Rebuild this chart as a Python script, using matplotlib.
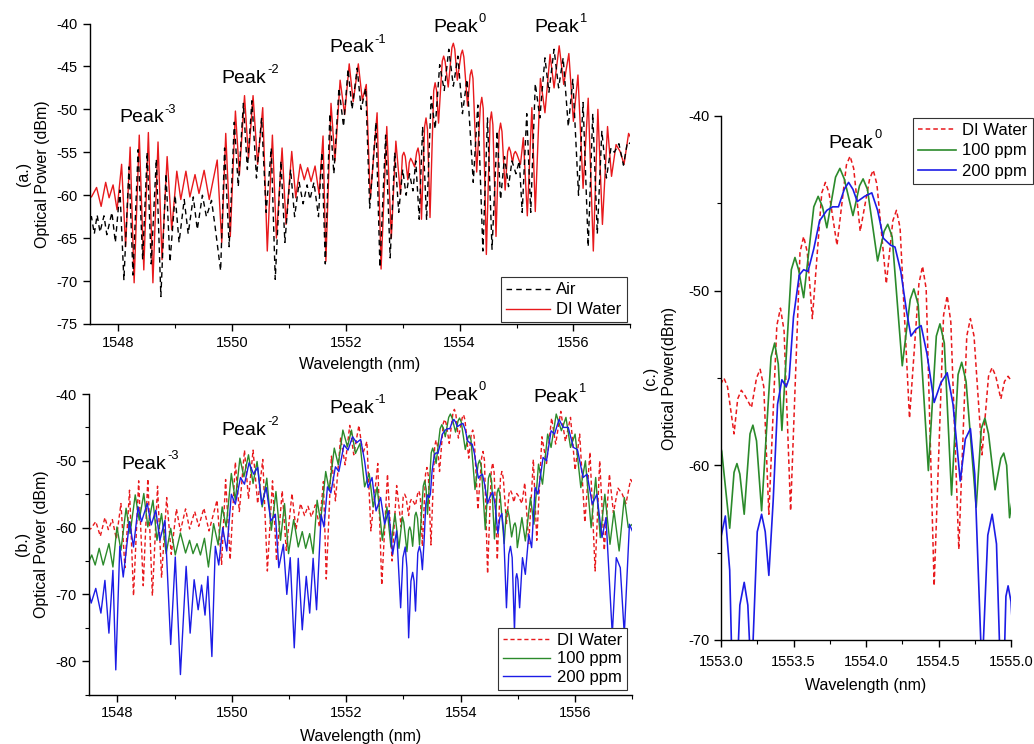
import matplotlib
matplotlib.use('Agg')
import matplotlib.pyplot as plt
import numpy as np
from matplotlib.ticker import MultipleLocator, FormatStrFormatter

plt.rcParams['font.family'] = ['Liberation Sans', 'DejaVu Sans']
plt.rcParams['axes.unicode_minus'] = False

# ---------------- data (wavelength nm, optical power dBm) -------------
air = [
    (1547.48, -63.8), (1547.53, -62.5), (1547.58, -64.5), (1547.63, -62.3), (1547.68, -64.3),
    (1547.75, -62.4), (1547.80, -64.6), (1547.89, -62.0), (1547.95, -65.5), (1548.03, -59.4),
    (1548.10, -69.9), (1548.19, -56.7), (1548.26, -69.3), (1548.35, -54.7), (1548.43, -67.5),
    (1548.51, -55.0), (1548.58, -68.0), (1548.67, -55.8), (1548.75, -71.8), (1548.84, -57.5),
    (1548.91, -67.8), (1549.00, -60.0), (1549.07, -65.5), (1549.16, -60.5), (1549.23, -64.5),
    (1549.32, -60.2), (1549.39, -64.0), (1549.48, -60.0), (1549.55, -62.5), (1549.64, -60.6),
    (1549.70, -63.5), (1549.80, -68.8), (1549.87, -54.5), (1549.95, -66.0), (1550.04, -51.5),
    (1550.11, -59.0), (1550.20, -49.3), (1550.27, -57.0), (1550.35, -49.0), (1550.43, -58.0),
    (1550.52, -51.0), (1550.60, -62.0), (1550.69, -54.5), (1550.76, -69.8), (1550.86, -56.0),
    (1550.93, -65.5), (1551.03, -57.0), (1551.10, -62.5), (1551.18, -58.5), (1551.25, -61.0),
    (1551.32, -58.8), (1551.37, -60.5), (1551.44, -58.5), (1551.52, -62.5), (1551.58, -55.0),
    (1551.64, -68.0), (1551.72, -50.5), (1551.79, -57.5), (1551.88, -47.5), (1551.96, -52.0),
    (1552.04, -45.3), (1552.11, -50.0), (1552.20, -45.2), (1552.27, -50.0), (1552.35, -47.5),
    (1552.42, -61.5), (1552.53, -51.5), (1552.60, -68.4), (1552.70, -53.0), (1552.78, -67.3),
    (1552.86, -55.0), (1552.93, -62.0), (1553.00, -57.0), (1553.06, -60.0), (1553.12, -57.5),
    (1553.18, -59.5), (1553.23, -56.0), (1553.29, -62.8), (1553.35, -52.0), (1553.42, -62.9),
    (1553.50, -48.5), (1553.57, -52.3), (1553.65, -44.8), (1553.73, -47.8), (1553.81, -43.0),
    (1553.89, -47.3), (1553.97, -43.8), (1554.05, -50.5), (1554.13, -46.5), (1554.24, -58.5),
    (1554.32, -49.5), (1554.41, -66.5), (1554.49, -51.0), (1554.57, -66.3), (1554.66, -52.5),
    (1554.72, -60.5), (1554.79, -55.5), (1554.86, -59.0), (1554.92, -56.0), (1554.99, -57.5),
    (1555.05, -56.0), (1555.10, -62.0), (1555.18, -50.5), (1555.25, -62.0), (1555.33, -47.0),
    (1555.41, -51.0), (1555.50, -44.0), (1555.57, -48.0), (1555.66, -43.0), (1555.74, -47.5),
    (1555.82, -44.0), (1555.91, -52.0), (1555.99, -46.5), (1556.09, -60.0), (1556.17, -49.2),
    (1556.26, -66.0), (1556.34, -50.5), (1556.42, -64.5), (1556.50, -52.5), (1556.58, -58.0),
    (1556.66, -54.5), (1556.72, -55.0), (1556.80, -54.0), (1556.88, -56.5), (1556.95, -53.8),
    (1557.00, -54.0),
]

di_water = [
    (1547.48, -60.1), (1547.53, -60.2), (1547.62, -59.1), (1547.70, -61.3), (1547.78, -58.5),
    (1547.84, -60.3), (1547.91, -58.8), (1547.98, -61.7), (1548.06, -56.4), (1548.13, -66.0),
    (1548.21, -54.4), (1548.28, -70.2), (1548.37, -53.0), (1548.45, -68.7), (1548.53, -52.7),
    (1548.61, -70.2), (1548.70, -53.8), (1548.77, -67.5), (1548.86, -55.5), (1548.94, -64.0),
    (1549.03, -57.2), (1549.10, -60.5), (1549.19, -57.2), (1549.26, -60.2), (1549.35, -57.6),
    (1549.42, -59.8), (1549.51, -57.1), (1549.60, -60.5), (1549.74, -55.9), (1549.82, -65.5),
    (1549.89, -52.8), (1549.97, -64.8), (1550.06, -50.2), (1550.13, -57.6), (1550.22, -48.4),
    (1550.29, -55.7), (1550.37, -48.4), (1550.45, -56.4), (1550.54, -49.8), (1550.62, -66.5),
    (1550.71, -53.0), (1550.78, -65.0), (1550.88, -54.5), (1550.95, -63.4), (1551.05, -54.9),
    (1551.12, -60.3), (1551.20, -56.4), (1551.27, -58.2), (1551.33, -56.8), (1551.39, -58.4),
    (1551.46, -56.6), (1551.53, -59.9), (1551.60, -53.1), (1551.65, -67.7), (1551.74, -49.3),
    (1551.81, -56.0), (1551.90, -46.6), (1551.98, -50.6), (1552.06, -44.7), (1552.13, -49.1),
    (1552.22, -44.7), (1552.29, -48.9), (1552.36, -47.1), (1552.43, -60.5), (1552.55, -50.4),
    (1552.62, -68.6), (1552.72, -52.0), (1552.80, -65.0), (1552.88, -53.7), (1552.96, -59.9),
    (1552.995, -55.4), (1553.02, -55.0), (1553.045, -55.5), (1553.09, -58.2), (1553.115, -56.2),
    (1553.14, -55.7), (1553.165, -56.0), (1553.21, -56.7), (1553.245, -55.0), (1553.27, -54.5),
    (1553.295, -55.5), (1553.33, -62.8), (1553.385, -52.0), (1553.41, -51.0), (1553.435, -52.3),
    (1553.48, -62.6), (1553.545, -47.8), (1553.57, -46.9), (1553.595, -47.8), (1553.63, -51.6),
    (1553.695, -44.4), (1553.72, -43.8), (1553.745, -44.4), (1553.80, -47.4), (1553.865, -42.8),
    (1553.89, -42.3), (1553.915, -43.0), (1553.96, -46.6), (1554.025, -43.6), (1554.05, -43.1),
    (1554.075, -43.9), (1554.14, -49.6), (1554.185, -46.0), (1554.21, -45.4), (1554.235, -46.4),
    (1554.30, -57.3), (1554.365, -49.6), (1554.39, -48.6), (1554.415, -49.9), (1554.47, -66.9),
    (1554.535, -51.4), (1554.56, -50.3), (1554.585, -51.8), (1554.64, -64.8), (1554.695, -52.6),
    (1554.72, -51.6), (1554.745, -52.6), (1554.80, -59.4), (1554.845, -54.9), (1554.87, -54.4),
    (1554.895, -54.9), (1554.93, -56.2), (1554.955, -55.2), (1554.98, -54.9), (1555.005, -55.2),
    (1555.07, -56.4), (1555.12, -53.3), (1555.19, -62.4),
    (1555.27, -49.8), (1555.33, -61.9), (1555.42, -46.4), (1555.50, -50.4), (1555.59, -43.6),
    (1555.66, -47.5), (1555.75, -42.6), (1555.83, -47.1), (1555.92, -43.5), (1556.00, -51.4),
    (1556.08, -46.0), (1556.17, -59.2), (1556.26, -48.7), (1556.35, -66.5), (1556.43, -50.0),
    (1556.51, -63.4), (1556.60, -52.0), (1556.67, -57.8), (1556.75, -54.1), (1556.82, -54.9),
    (1556.89, -56.4), (1556.97, -52.8), (1557.00, -53.2),
]

ppm100 = [
    (1547.50, -65.1), (1547.55, -64.1), (1547.61, -65.6), (1547.68, -63.1), (1547.75, -65.6),
    (1547.85, -62.4), (1547.92, -65.9), (1547.99, -59.9), (1548.06, -63.4), (1548.15, -57.1),
    (1548.22, -60.9), (1548.31, -55.1), (1548.38, -58.9), (1548.46, -54.9), (1548.53, -59.9),
    (1548.62, -55.9), (1548.69, -61.9), (1548.77, -57.9), (1548.85, -63.9), (1548.93, -60.1),
    (1549.01, -64.1), (1549.10, -60.8), (1549.19, -63.8), (1549.26, -61.9), (1549.32, -63.9),
    (1549.39, -62.4), (1549.45, -64.1), (1549.52, -61.6), (1549.59, -65.9), (1549.68, -59.4),
    (1549.76, -62.6), (1549.83, -56.9), (1549.90, -59.9), (1549.99, -51.9), (1550.06, -55.9),
    (1550.14, -49.6), (1550.21, -52.4), (1550.29, -49.1), (1550.37, -53.4), (1550.44, -50.1),
    (1550.53, -56.9), (1550.61, -52.6), (1550.69, -60.4), (1550.77, -54.6), (1550.85, -61.9),
    (1550.92, -56.4), (1550.99, -63.9), (1551.08, -58.8), (1551.16, -62.9), (1551.23, -60.6),
    (1551.29, -63.1), (1551.36, -60.9), (1551.42, -63.9), (1551.49, -55.9), (1551.55, -59.1),
    (1551.64, -51.6), (1551.70, -54.4), (1551.79, -48.1), (1551.86, -50.6), (1551.94, -45.4),
    (1552.02, -47.9), (1552.09, -45.4), (1552.16, -48.9), (1552.24, -47.4), (1552.32, -53.9),
    (1552.40, -51.9), (1552.47, -56.9), (1552.54, -53.9), (1552.63, -61.9), (1552.71, -56.9),
    (1552.78, -62.9), (1552.85, -57.9), (1552.92, -63.1),
    (1552.98, -58.4), (1553.005, -59.2), (1553.06, -63.6), (1553.09, -60.4), (1553.11, -59.9),
    (1553.13, -60.5), (1553.16, -62.8), (1553.20, -58.2), (1553.22, -57.7), (1553.245, -58.6),
    (1553.28, -62.6), (1553.345, -53.8), (1553.37, -53.0), (1553.395, -54.2), (1553.42, -58.0),
    (1553.485, -48.8), (1553.51, -48.1), (1553.535, -48.8), (1553.57, -50.4), (1553.64, -45.2),
    (1553.67, -44.6), (1553.70, -45.2), (1553.73, -46.4), (1553.79, -43.5), (1553.82, -43.0),
    (1553.85, -43.6), (1553.91, -45.7), (1553.955, -44.0), (1553.98, -43.6), (1554.01, -44.2),
    (1554.08, -48.3), (1554.125, -46.6), (1554.15, -46.2), (1554.18, -46.9), (1554.25, -54.3),
    (1554.305, -50.5), (1554.33, -49.9), (1554.36, -50.8), (1554.43, -60.3), (1554.485, -52.6),
    (1554.51, -51.9), (1554.54, -53.0), (1554.59, -61.7), (1554.635, -54.8), (1554.66, -54.1),
    (1554.69, -55.2), (1554.76, -62.4), (1554.795, -57.9), (1554.82, -57.3), (1554.845, -58.2),
    (1554.89, -61.4), (1554.93, -59.6), (1554.95, -59.3), (1554.97, -60.0), (1554.99, -63.0),
    (1555.07, -58.5), (1555.13, -62.0), (1555.22, -55.5), (1555.28, -59.5),
    (1555.36, -50.5), (1555.43, -53.5), (1555.52, -46.0), (1555.58, -48.0), (1555.67, -43.0),
    (1555.76, -45.5), (1555.84, -43.5), (1555.92, -48.0), (1556.00, -46.0), (1556.10, -54.0),
    (1556.18, -50.0), (1556.28, -60.0), (1556.36, -52.5), (1556.44, -61.5), (1556.52, -55.0),
    (1556.61, -62.5), (1556.68, -57.5), (1556.77, -63.5), (1556.86, -55.5), (1556.93, -60.0),
    (1557.00, -59.5),
]

ppm200 = [
    (1547.50, -69.6), (1547.54, -71.3), (1547.62, -69.1), (1547.71, -72.8), (1547.78, -67.9),
    (1547.85, -75.8), (1547.92, -66.4), (1547.97, -81.3), (1548.04, -62.8), (1548.10, -67.4),
    (1548.21, -59.1), (1548.28, -62.9), (1548.36, -56.9), (1548.42, -59.1), (1548.52, -56.4),
    (1548.59, -59.6), (1548.67, -57.4), (1548.74, -61.9), (1548.83, -58.9), (1548.93, -77.5),
    (1549.01, -64.4), (1549.10, -82.0), (1549.20, -65.8), (1549.27, -75.8), (1549.34, -67.8),
    (1549.41, -72.3), (1549.47, -68.6), (1549.53, -73.1), (1549.58, -67.3), (1549.65, -79.3),
    (1549.71, -62.8), (1549.77, -65.6), (1549.84, -60.0), (1549.91, -63.5), (1549.99, -55.0),
    (1550.06, -56.5), (1550.15, -52.5), (1550.22, -53.5), (1550.30, -50.3), (1550.38, -52.0),
    (1550.45, -51.0), (1550.52, -56.5), (1550.60, -54.0), (1550.68, -59.0), (1550.76, -58.0),
    (1550.82, -66.0), (1550.90, -62.5), (1550.96, -70.0), (1551.02, -64.5), (1551.09, -78.0),
    (1551.16, -64.6), (1551.23, -75.3), (1551.30, -67.3), (1551.36, -72.8), (1551.42, -64.6),
    (1551.48, -72.3), (1551.56, -58.1), (1551.61, -59.9), (1551.67, -53.9), (1551.73, -54.8),
    (1551.81, -50.9), (1551.87, -51.6), (1551.96, -47.6), (1552.03, -48.4), (1552.11, -46.4),
    (1552.18, -47.3), (1552.25, -46.8), (1552.32, -50.0), (1552.38, -54.0), (1552.45, -52.5),
    (1552.52, -57.5), (1552.60, -55.5), (1552.67, -59.5), (1552.74, -57.5), (1552.81, -64.0),
    (1552.88, -60.5), (1552.95, -72.0),
    (1552.99, -64.5), (1553.03, -62.9), (1553.06, -66.0), (1553.09, -76.5), (1553.13, -68.0),
    (1553.16, -66.7), (1553.185, -68.0), (1553.21, -72.5), (1553.25, -63.8), (1553.28, -62.8),
    (1553.305, -63.8), (1553.33, -66.3), (1553.36, -62.0), (1553.39, -56.5), (1553.42, -55.1),
    (1553.45, -55.5), (1553.47, -55.0), (1553.50, -51.5), (1553.54, -49.1), (1553.57, -48.8),
    (1553.60, -48.9), (1553.64, -47.6), (1553.68, -46.0), (1553.73, -45.4), (1553.77, -45.2),
    (1553.81, -45.2), (1553.85, -44.2), (1553.88, -43.8), (1553.91, -44.2), (1553.94, -44.9),
    (1553.99, -44.6), (1554.04, -44.4), (1554.08, -45.4), (1554.12, -47.0), (1554.17, -47.4),
    (1554.20, -47.5), (1554.24, -48.9), (1554.28, -51.2), (1554.31, -52.6), (1554.345, -52.2),
    (1554.38, -52.0), (1554.42, -53.6), (1554.47, -56.4), (1554.515, -55.3), (1554.56, -54.7),
    (1554.60, -56.5), (1554.65, -60.9), (1554.685, -58.5), (1554.72, -57.9), (1554.75, -60.5),
    (1554.80, -72.0), (1554.84, -64.0), (1554.87, -62.8), (1554.90, -64.5), (1554.94, -75.5),
    (1554.965, -67.5), (1554.98, -66.9), (1555.00, -67.8), (1555.03, -72.0),
    (1555.08, -64.5), (1555.13, -67.0), (1555.19, -61.0), (1555.24, -63.0), (1555.30, -54.0),
    (1555.35, -55.0), (1555.44, -49.5), (1555.50, -50.0), (1555.58, -45.5), (1555.64, -46.0),
    (1555.72, -43.8), (1555.79, -45.0), (1555.88, -45.0), (1555.97, -48.0), (1556.04, -48.3),
    (1556.14, -52.5), (1556.21, -52.0), (1556.30, -56.5), (1556.38, -55.0), (1556.47, -61.5),
    (1556.54, -58.5), (1556.65, -76.0), (1556.72, -64.5), (1556.79, -66.0), (1556.86, -76.0),
    (1556.95, -59.5), (1557.00, -60.5),
]

peak_names = ['-3', '-2', '-1', '0', '1']

# ---------------- styling ----------------
RED = '#e8191c'
GREEN = '#2b8a2b'
BLUE = '#1c1ce6'

W, H = 1034, 744
fig = plt.figure(figsize=(W / 100, H / 100), dpi=100)


def rect(l, r, t, b):
    return [l / W, 1 - b / H, (r - l) / W, (b - t) / H]


def xy(series):
    a = np.array(series)
    return a[:, 0], a[:, 1]


def style(ax):
    for s in ('top', 'right'):
        ax.spines[s].set_visible(False)
    for s in ('left', 'bottom'):
        ax.spines[s].set_linewidth(1.0)
    ax.tick_params(which='both', direction='out', labelsize=10.5)
    ax.tick_params(which='major', length=5, width=1.0)
    ax.tick_params(which='minor', length=3, width=0.8)


def peak_text(ax, x, y, sup, size=14):
    # "Peak" with a superscript order number, centred on (x, y)
    ax.annotate('Peak', (x, y), xytext=(11.7, 0), textcoords='offset points',
                fontsize=size, ha='right', va='center', annotation_clip=False)
    ax.annotate(sup, (x, y), xytext=(12.2, 6.0), textcoords='offset points',
                fontsize=size * 0.66, ha='left', va='center', annotation_clip=False)


def legend(ax, handles, loc, anchor, spacing, hlen):
    leg = ax.legend(handles=handles, loc=loc, bbox_to_anchor=anchor, fontsize=12, frameon=True,
                    fancybox=False, edgecolor='#333333', framealpha=1, handlelength=hlen,
                    borderpad=0.3, labelspacing=spacing, handletextpad=0.4, borderaxespad=0)
    leg.get_frame().set_linewidth(0.8)


axA = fig.add_axes(rect(89.75, 630.3, 23.5, 324))
axB = fig.add_axes(rect(88.9, 632.3, 394, 694.6))
axC = fig.add_axes(rect(721, 1011, 116, 640))

# ---- (a)
x, y = xy(di_water)
hw, = axA.plot(x, y, color=RED, lw=1.0, label='DI Water', zorder=2)
x, y = xy(air)
ha, = axA.plot(x, y, color='black', lw=1.0, ls=(0, (4, 3)), label='Air', zorder=3)
axA.set_xlim(1547.5, 1557)
axA.set_ylim(-75, -40)
axA.xaxis.set_major_locator(MultipleLocator(2))
axA.xaxis.set_minor_locator(MultipleLocator(1))
axA.yaxis.set_major_locator(MultipleLocator(5))
style(axA)
axA.set_xlabel('Wavelength (nm)', fontsize=11.5, labelpad=5)
axA.set_ylabel('(a.)\nOptical Power (dBm)', fontsize=11.5, labelpad=5, linespacing=1.3)
for s, (px, py) in zip(peak_names, [(1548.52, -51.0), (1550.32, -46.35), (1552.21, -42.85),
                                    (1554.04, -40.5), (1555.82, -40.5)]):
    peak_text(axA, px, py, s)
legend(axA, [ha, hw], 'lower right', (0.993, 0.005), 0.3, 2.6)

# ---- (b)
x, y = xy(di_water)
h1, = axB.plot(x, y, color=RED, lw=1.0, ls=(0, (3, 2)), label='DI Water')
x, y = xy(ppm100)
h2, = axB.plot(x, y, color=GREEN, lw=1.0, label='100 ppm')
x, y = xy(ppm200)
h3, = axB.plot(x, y, color=BLUE, lw=1.0, label='200 ppm')
axB.set_xlim(1547.5, 1557)
axB.set_ylim(-85, -40)
axB.xaxis.set_major_locator(MultipleLocator(2))
axB.xaxis.set_minor_locator(MultipleLocator(1))
axB.yaxis.set_major_locator(MultipleLocator(10))
axB.yaxis.set_minor_locator(MultipleLocator(5))
style(axB)
axB.set_xlabel('Wavelength (nm)', fontsize=11.5, labelpad=6)
axB.set_ylabel('(b.)\nOptical Power (dBm)', fontsize=11.5, labelpad=5, linespacing=1.3)
for s, (px, py) in zip(peak_names, [(1548.57, -50.5), (1550.32, -45.4), (1552.20, -42.2),
                                    (1554.02, -40.15), (1555.77, -40.45)]):
    peak_text(axB, px, py, s)
legend(axB, [h1, h2, h3], 'lower right', (0.99, 0.015), 0.22, 2.8)

# ---- (c)
x, y = xy(di_water)
c1, = axC.plot(x, y, color=RED, lw=1.1, ls=(0, (3, 2)), label='DI Water')
x, y = xy(ppm100)
c2, = axC.plot(x, y, color=GREEN, lw=1.2, label='100 ppm')
x, y = xy(ppm200)
c3, = axC.plot(x, y, color=BLUE, lw=1.2, label='200 ppm')
axC.set_xlim(1553, 1555)
axC.set_ylim(-70, -40)
axC.xaxis.set_major_locator(MultipleLocator(0.5))
axC.xaxis.set_minor_locator(MultipleLocator(0.25))
axC.xaxis.set_major_formatter(FormatStrFormatter('%.1f'))
axC.yaxis.set_major_locator(MultipleLocator(10))
axC.yaxis.set_minor_locator(MultipleLocator(5))
style(axC)
axC.tick_params(axis='x', pad=6)
axC.set_xlabel('Wavelength (nm)', fontsize=11.5, labelpad=6)
axC.set_ylabel('(c.)\nOptical Power(dBm)', fontsize=11.5, labelpad=8, linespacing=1.3)
peak_text(axC, 1553.94, -41.55, peak_names[3])
legend(axC, [c1, c2, c3], 'upper right', (1.075, 0.996), 0.32, 2.3)

fig.savefig('out.png', dpi=100)
